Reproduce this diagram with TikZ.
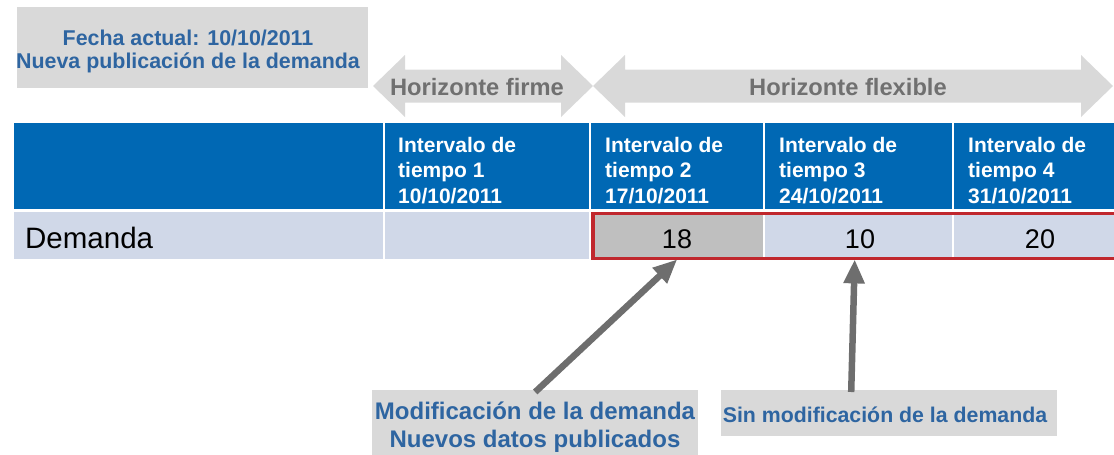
\documentclass[tikz,border=0pt]{standalone}
\usepackage{fontspec}
\setmainfont{Liberation Sans}
\usetikzlibrary{arrows.meta}
\definecolor{boxgray}{RGB}{217,217,217}
\definecolor{txtblue}{RGB}{46,101,161}
\definecolor{hdrblue}{RGB}{0,104,180}
\definecolor{rowfill}{RGB}{208,216,232}
\definecolor{cellgray}{RGB}{191,191,191}
\definecolor{horgray}{RGB}{112,112,112}
\definecolor{ptrgray}{RGB}{110,110,110}
\definecolor{framered}{RGB}{192,39,45}
\begin{document}
\begin{tikzpicture}[x=1pt,y=-1pt,
  box/.style={fill=boxgray, inner sep=0, anchor=north west},
  hdr/.style={fill=hdrblue, inner sep=0, anchor=north west, minimum height=86pt},
  rowcell/.style={fill=rowfill, inner sep=0, anchor=north west, minimum height=47pt},
  hdrtxt/.style={text=white, font=\bfseries\fontsize{21}{25.5}\selectfont, anchor=base west, inner sep=0},
  titletxt/.style={text=txtblue, font=\bfseries\fontsize{21.4}{24}\selectfont, anchor=base, inner sep=0},
  hortxt/.style={text=horgray, font=\bfseries\fontsize{23.7}{28}\selectfont, anchor=base, inner sep=0},
  bigarrow/.style={fill=boxgray},
  ptr/.style={draw=ptrgray, line width=6.5pt, -{Triangle[length=24pt,width=20pt]}},
  redframe/.style={draw=framered, line width=3.5pt},
  numtxt/.style={font=\fontsize{27}{30}\selectfont, anchor=base, inner sep=0}
]
\useasboundingbox (0,0) rectangle (1114,455);

% title box
\node[box, minimum width=351pt, minimum height=81pt] (tbox) at (17,7) {};
\node[titletxt] (ttxt) at (188,45) {\begin{tabular}[t]{@{}c@{}}Fecha actual: 10/10/2011\\Nueva publicación de la demanda\end{tabular}};

% horizon arrows
\fill[bigarrow] (373,86) -- (405,55) -- (405,69.5) -- (561,69.5) -- (561,55) -- (593,86)
  -- (561,117) -- (561,102.5) -- (405,102.5) -- (405,117) -- cycle;
\fill[bigarrow] (593,86) -- (625,55) -- (625,69.5) -- (1081,69.5) -- (1081,55) -- (1113,86)
  -- (1081,117) -- (1081,102.5) -- (625,102.5) -- (625,117) -- cycle;
\node[hortxt] (hfirme) at (477,95) {Horizonte firme};
\node[hortxt] (hflex) at (848,95) {Horizonte flexible};

% header row
\node[hdr, minimum width=369pt] (h0) at (14,123) {};
\node[hdr, minimum width=204pt] (h1) at (385,123) {};
\node[hdr, minimum width=172pt] (h2) at (591,123) {};
\node[hdr, minimum width=187pt] (h3) at (765,123) {};
\node[hdr, minimum width=160pt] (h4) at (954,123) {};
\node[hdrtxt] (t1) at (398,152) {\begin{tabular}[t]{@{}l@{}}Intervalo de\\tiempo 1\\10/10/2011\end{tabular}};
\node[hdrtxt] (t2) at (605,152) {\begin{tabular}[t]{@{}l@{}}Intervalo de\\tiempo 2\\17/10/2011\end{tabular}};
\node[hdrtxt] (t3) at (779,152) {\begin{tabular}[t]{@{}l@{}}Intervalo de\\tiempo 3\\24/10/2011\end{tabular}};
\node[hdrtxt] (t4) at (968,152) {\begin{tabular}[t]{@{}l@{}}Intervalo de\\tiempo 4\\31/10/2011\end{tabular}};

% data row
\node[rowcell, minimum width=369pt] (d0) at (14,212) {};
\node[rowcell, minimum width=204pt] (d1) at (385,212) {};
\node[rowcell, minimum width=172pt, fill=cellgray] (d2) at (591,212) {};
\node[rowcell, minimum width=187pt] (d3) at (765,212) {};
\node[rowcell, minimum width=160pt] (d4) at (954,212) {};
\node[numtxt, anchor=base west, font=\fontsize{29.5}{32}\selectfont] (dem) at (25,248) {Demanda};
\node[numtxt] (n2) at (677,248) {18};
\node[numtxt] (n3) at (860,248) {10};
\node[numtxt] (n4) at (1040,248) {20};

% bottom labels
\node[box, minimum width=326pt, minimum height=70pt] (lab1) at (372,390) {};
\node[titletxt, font=\bfseries\fontsize{24}{28}\selectfont] (l1txt) at (535,419) {\begin{tabular}[t]{@{}c@{}}Modificación de la demanda\\Nuevos datos publicados\end{tabular}};
\node[box, minimum width=336pt, minimum height=46pt] (lab2) at (721,390) {};
\node[titletxt, font=\bfseries\fontsize{21.3}{26}\selectfont] (l2txt) at (885,422) {Sin modificación de la demanda};

% pointers
\draw[ptr] ([yshift=-2pt]lab1.north) -- (d2.south);
\draw[ptr] ([xshift=-38pt,yshift=-2pt]lab2.north) -- ([xshift=-4pt]d3.south);

% red frame
\draw[redframe] ([shift={(2,1.5)}]d2.north west) rectangle ([shift={(10,-1)}]d4.south east);
\end{tikzpicture}
\end{document}
